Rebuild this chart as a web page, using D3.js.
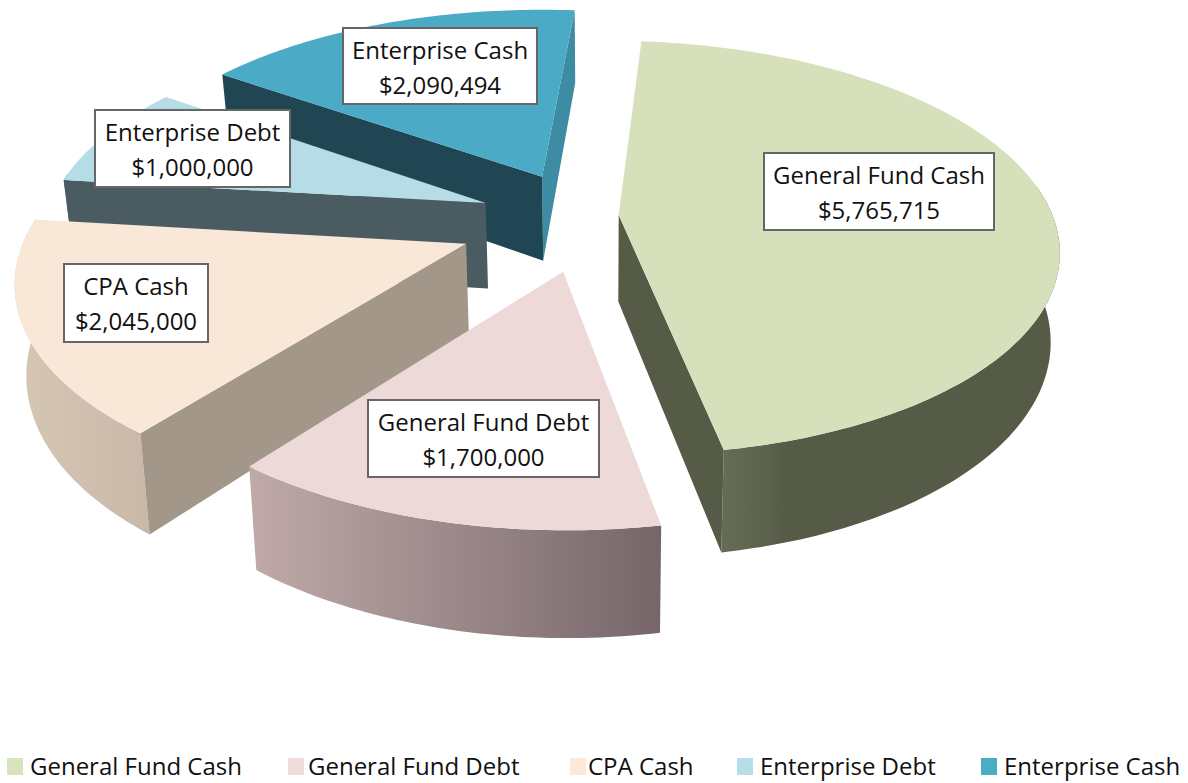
<!DOCTYPE html>
<html><head><meta charset="utf-8">
<script src="https://cdn.jsdelivr.net/npm/d3@7"></script>
<style>html,body{margin:0;background:#fff}svg{display:block}text{font-family:"Open Sans",sans-serif;fill:#111}</style>
</head><body><svg id="c" width="1188" height="783"></svg>
<script>
const categories=["General Fund Cash","General Fund Debt","CPA Cash","Enterprise Debt","Enterprise Cash"];
const values=[5765715,1700000,2045000,1000000,2090494];
const valueLabels=["$5,765,715","$1,700,000","$2,045,000","$1,000,000","$2,090,494"];
const topColors=["#d6e1bc","#edd9d8","#f9e8d8","#b6dce5","#4babc6"];
const legendColors=["#d8e4bc","#f2dcdb","#fde9d9","#b7dde8","#4bacc6"];
const startSide=["#565b48","#7a6a68","#a3978a","#4b5b62","#1f4652"];
const endSide=["#565b48","#7a6a68","#a3978a","#4b5b62","#3d8ca3"];
const outerA=["#666d57","#c0aaa9","#d6c7b5","#4b5b62","#3d8ca3"];
const outerB=["#565b48","#76666a","#c9b8a8","#4b5b62","#3d8ca3"];
const outerStop=[0.2,1,1,1,1];
// layout: explosion of each slice, as a fraction of radius
const explodeU=[0.17,0.04,-0.178,-0.138,-0.007];
const explodeV=[-0.034,0.235,0.105,-0.095,-0.23];
const radiusScale=[1,0.985,1,1.01,1.015];
const labelBoxes=[[764,153,230,77],[368,400,231,77],[64,264,144,78],[95,110,195,77],[343,28,194,76]];
const legendSwatchX=[7,288,570,737,981];
const legendTextX=[30,308,588,760,1004];

const X0=545,Y0=222,Rx=436,Ry=204,K=0.158,DEPTH=87,VX=600,VK=0.02,ROT=5*Math.PI/180;
const svg=d3.select("#c"),defs=svg.append("defs");
const arcs=d3.pie().sort(null).startAngle(ROT).endAngle(ROT+2*Math.PI)(values);
const xs=d3.scaleLinear().domain([0,1]).range([0,Rx]);
const ys=d3.scaleLinear().domain([0,1]).range([0,Ry]);
const top3=(u,v)=>{const s=1/(1-K*v);return [X0+xs(u)*s,Y0+ys(v)*s,s];};
const bot3=(u,v)=>{const p=top3(u,v);return [p[0]+(VX-p[0])*VK,p[1]+DEPTH*p[2]];};
const poly=pts=>"M"+pts.map(p=>p[0].toFixed(1)+","+p[1].toFixed(1)).join("L")+"Z";
const slices=arcs.map((a,i)=>({a,i,mid:explodeV[i]})).sort((p,q)=>p.mid-q.mid);
slices.forEach(({a,i})=>{
  const eu=explodeU[i],ev=explodeV[i],r=radiusScale[i];
  const n=Math.max(8,Math.round((a.endAngle-a.startAngle)*60));
  const angles=d3.range(n+1).map(k=>a.startAngle+(a.endAngle-a.startAngle)*k/n);
  const pt=t=>[eu+r*Math.sin(t),ev-r*Math.cos(t)];
  const rim=angles.map(pt);
  const g=svg.append("g");
  const gid="o"+i;
  const lg=defs.append("linearGradient").attr("id",gid);
  lg.append("stop").attr("offset",0).attr("stop-color",outerA[i]);
  lg.append("stop").attr("offset",outerStop[i]).attr("stop-color",outerB[i]);
  const apex=top3(eu,ev);
  const midT=(a.startAngle+a.endAngle)/2;
  const midPt=top3(eu+0.5*r*Math.sin(midT),ev-0.5*r*Math.cos(midT));
  // a radial wall shows only if the slice's top lies above that edge on screen
  const faces=p=>{
    const q=top3(p[0],p[1]),ex=q[0]-apex[0],ey=q[1]-apex[1];
    return (ex*(midPt[1]-apex[1])-ey*(midPt[0]-apex[0]))*ex<0;
  };
  const front=angles.filter(t=>-Math.cos(t)>-0.15).map(pt);
  if(front.length>1) g.append("path").attr("d",poly(front.map(p=>top3(p[0],p[1])).concat(front.slice().reverse().map(p=>bot3(p[0],p[1]))))).attr("fill",`url(#${gid})`);
  const rs=rim[0],re=rim[n];
  if(faces(re)) g.append("path").attr("d",poly([apex,top3(re[0],re[1]),bot3(re[0],re[1]),bot3(eu,ev)])).attr("fill",endSide[i]);
  if(faces(rs)) g.append("path").attr("d",poly([apex,top3(rs[0],rs[1]),bot3(rs[0],rs[1]),bot3(eu,ev)])).attr("fill",startSide[i]);
  g.append("path").attr("d",poly([apex].concat(rim.map(p=>top3(p[0],p[1]))))).attr("fill",topColors[i]);
});
categories.forEach((c,i)=>{
  const [x,y,w,h]=labelBoxes[i];
  const g=svg.append("g");
  g.append("rect").attr("x",x).attr("y",y).attr("width",w).attr("height",h).attr("fill","#fff").attr("stroke","#666").attr("stroke-width",2);
  g.append("text").attr("x",x+w/2).attr("y",y+31).attr("text-anchor","middle").attr("font-size",24).text(c);
  g.append("text").attr("x",x+w/2).attr("y",y+66).attr("text-anchor","middle").attr("font-size",24).text(valueLabels[i]);
  svg.append("rect").attr("x",legendSwatchX[i]).attr("y",758).attr("width",16).attr("height",17).attr("fill",legendColors[i]);
  svg.append("text").attr("x",legendTextX[i]).attr("y",775).attr("font-size",24).text(c);
});
</script></body></html>
